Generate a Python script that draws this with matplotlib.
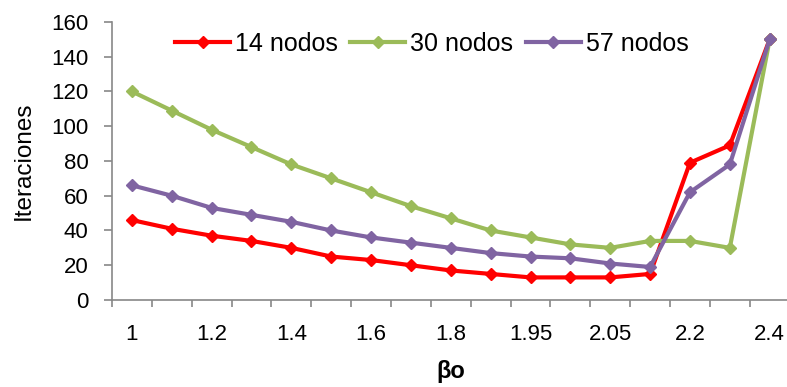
"""
Iteraciones vs beta_o para redes de 14, 30 y 57 nodos.
"""
import matplotlib.pyplot as plt

plt.rcParams["font.family"] = ["Liberation Sans", "DejaVu Sans"]

# categorias del eje x (espaciado categorico, no numerico)
beta_o = ["1", "1.1", "1.2", "1.3", "1.4", "1.5", "1.6", "1.7", "1.8",
          "1.9", "1.95", "2", "2.05", "2.1", "2.2", "2.3", "2.4"]

it_14 = [46, 41, 37, 34, 30, 25, 23, 20, 17, 15, 13, 13, 13, 15, 79, 89, 150]
it_30 = [120, 109, 98, 88, 78, 70, 62, 54, 47, 40, 36, 32, 30, 34, 34, 30, 150]
it_57 = [66, 60, 53, 49, 45, 40, 36, 33, 30, 27, 25, 24, 21, 19, 62, 78, 150]

series = [
    ("14 nodos", it_14, "#FF0000"),
    ("30 nodos", it_30, "#9BBB59"),
    ("57 nodos", it_57, "#8064A2"),
]

fig = plt.figure(figsize=(7.87, 3.87), dpi=100)
ax = fig.add_axes([0.1423, 0.2248, 0.861, 0.7184])

x = list(range(len(beta_o)))
for label, vals, color in series:
    ax.plot(x, vals, color=color, linewidth=3.0, marker="D", markersize=6,
            label=label, zorder=3)

ax.set_xlim(-0.5, len(beta_o) - 0.5)
ax.set_ylim(0, 160)
ax.set_yticks(range(0, 161, 20))

# etiquetas cada dos categorias, marcas en los limites de categoria
ax.set_xticks(x[::2])
ax.set_xticklabels(beta_o[::2])
ax.set_xticks([i - 0.5 for i in range(len(beta_o) + 1)], minor=True)
ax.tick_params(axis="x", which="major", length=0, pad=17, labelsize=16)
ax.tick_params(axis="x", which="minor", length=5, color="#888888", width=1.2)
ax.tick_params(axis="y", length=6, color="#888888", width=1.2,
               labelsize=16, pad=11)

for side in ["top", "right"]:
    ax.spines[side].set_visible(False)
for side in ["left", "bottom"]:
    ax.spines[side].set_color("#888888")
    ax.spines[side].set_linewidth(1.2)

ax.set_ylabel("Iteraciones", fontsize=17.5)
ax.yaxis.set_label_coords(-0.114, 0.5)
ax.set_xlabel("\u03b2o", fontsize=17, fontweight="bold")
ax.xaxis.set_label_coords(0.5, -0.215)

ax.legend(loc="center", bbox_to_anchor=(0.472, 0.92), ncol=3,
          frameon=False, fontsize=18, handlelength=2.2, columnspacing=0.5,
          handletextpad=0.2, borderaxespad=0)

fig.savefig("out.png", dpi=100)
